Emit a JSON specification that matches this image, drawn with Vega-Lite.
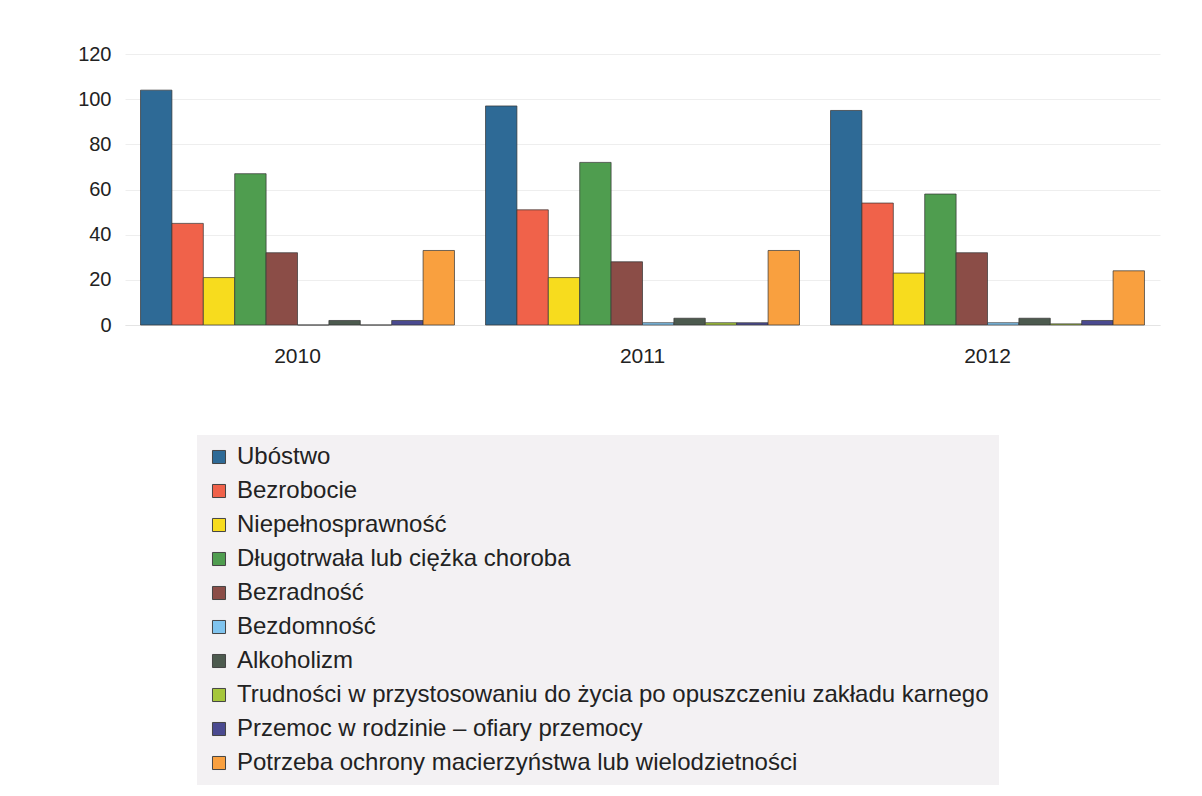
{
  "$schema": "https://vega.github.io/schema/vega-lite/v6.json",
  "width": 1035,
  "height": 271,
  "autosize": "none",
  "padding": {"left": 125, "top": 54, "right": 42, "bottom": 471},
  "background": "white",
  "config": {
    "font": "Liberation Sans",
    "view": {"stroke": null}
  },
  "data": {
    "values": [
      {"rok": "2010", "kat": "Ubóstwo", "o": 1, "v": 104},
      {"rok": "2010", "kat": "Bezrobocie", "o": 2, "v": 45},
      {"rok": "2010", "kat": "Niepełnosprawność", "o": 3, "v": 21},
      {"rok": "2010", "kat": "Długotrwała lub ciężka choroba", "o": 4, "v": 67},
      {"rok": "2010", "kat": "Bezradność", "o": 5, "v": 32},
      {"rok": "2010", "kat": "Bezdomność", "o": 6, "v": 0},
      {"rok": "2010", "kat": "Alkoholizm", "o": 7, "v": 2},
      {"rok": "2010", "kat": "Trudności w przystosowaniu do życia po opuszczeniu zakładu karnego", "o": 8, "v": 0},
      {"rok": "2010", "kat": "Przemoc w rodzinie – ofiary przemocy", "o": 9, "v": 2},
      {"rok": "2010", "kat": "Potrzeba ochrony macierzyństwa lub wielodzietności", "o": 10, "v": 33},
      {"rok": "2011", "kat": "Ubóstwo", "o": 1, "v": 97},
      {"rok": "2011", "kat": "Bezrobocie", "o": 2, "v": 51},
      {"rok": "2011", "kat": "Niepełnosprawność", "o": 3, "v": 21},
      {"rok": "2011", "kat": "Długotrwała lub ciężka choroba", "o": 4, "v": 72},
      {"rok": "2011", "kat": "Bezradność", "o": 5, "v": 28},
      {"rok": "2011", "kat": "Bezdomność", "o": 6, "v": 1},
      {"rok": "2011", "kat": "Alkoholizm", "o": 7, "v": 3},
      {"rok": "2011", "kat": "Trudności w przystosowaniu do życia po opuszczeniu zakładu karnego", "o": 8, "v": 1},
      {"rok": "2011", "kat": "Przemoc w rodzinie – ofiary przemocy", "o": 9, "v": 1},
      {"rok": "2011", "kat": "Potrzeba ochrony macierzyństwa lub wielodzietności", "o": 10, "v": 33},
      {"rok": "2012", "kat": "Ubóstwo", "o": 1, "v": 95},
      {"rok": "2012", "kat": "Bezrobocie", "o": 2, "v": 54},
      {"rok": "2012", "kat": "Niepełnosprawność", "o": 3, "v": 23},
      {"rok": "2012", "kat": "Długotrwała lub ciężka choroba", "o": 4, "v": 58},
      {"rok": "2012", "kat": "Bezradność", "o": 5, "v": 32},
      {"rok": "2012", "kat": "Bezdomność", "o": 6, "v": 1},
      {"rok": "2012", "kat": "Alkoholizm", "o": 7, "v": 3},
      {"rok": "2012", "kat": "Trudności w przystosowaniu do życia po opuszczeniu zakładu karnego", "o": 8, "v": 0.5},
      {"rok": "2012", "kat": "Przemoc w rodzinie – ofiary przemocy", "o": 9, "v": 2},
      {"rok": "2012", "kat": "Potrzeba ochrony macierzyństwa lub wielodzietności", "o": 10, "v": 24}
    ]
  },
  "mark": {"type": "bar", "stroke": "#333333", "strokeWidth": 1, "strokeOpacity": 0.7},
  "encoding": {
    "x": {
      "field": "rok",
      "type": "nominal",
      "scale": {"paddingInner": 0.09, "paddingOuter": 0.045},
      "axis": {
        "title": null,
        "labelAngle": 0,
        "labelFontSize": 21,
        "labelColor": "#222222",
        "labelPadding": 20,
        "ticks": false,
        "domain": true,
        "domainColor": "#e4e4e4",
        "grid": false
      }
    },
    "xOffset": {"field": "kat", "type": "nominal", "sort": {"field": "o"}, "scale": {"paddingInner": 0, "paddingOuter": 0}},
    "y": {
      "field": "v",
      "type": "quantitative",
      "scale": {"domain": [0, 120]},
      "axis": {
        "title": null,
        "values": [0, 20, 40, 60, 80, 100, 120],
        "labelFontSize": 20,
        "labelColor": "#222222",
        "labelPadding": 14,
        "ticks": false,
        "domain": false,
        "gridColor": "#eeeeee",
        "gridWidth": 1
      }
    },
    "color": {
      "field": "kat",
      "type": "nominal",
      "sort": {"field": "o"},
      "scale": {
        "domain": [
          "Ubóstwo",
          "Bezrobocie",
          "Niepełnosprawność",
          "Długotrwała lub ciężka choroba",
          "Bezradność",
          "Bezdomność",
          "Alkoholizm",
          "Trudności w przystosowaniu do życia po opuszczeniu zakładu karnego",
          "Przemoc w rodzinie – ofiary przemocy",
          "Potrzeba ochrony macierzyństwa lub wielodzietności"
        ],
        "range": ["#2e6a96", "#f0624a", "#f7dc1e", "#4f9d4f", "#8b4d47", "#80c4ee", "#4c5a4e", "#a5c63b", "#4a4a90", "#f9a03f"]
      },
      "legend": {
        "title": null,
        "orient": "none",
        "legendX": 72,
        "legendY": 381,
        "direction": "vertical",
        "fillColor": "#f3f1f3",
        "padding": 10,
        "labelFontSize": 24,
        "labelColor": "#222222",
        "labelLimit": 900,
        "symbolType": "square",
        "symbolSize": 170,
        "symbolStrokeColor": "#444444",
        "symbolStrokeWidth": 1,
        "rowPadding": 10,
        "labelOffset": 6
      }
    }
  }
}
